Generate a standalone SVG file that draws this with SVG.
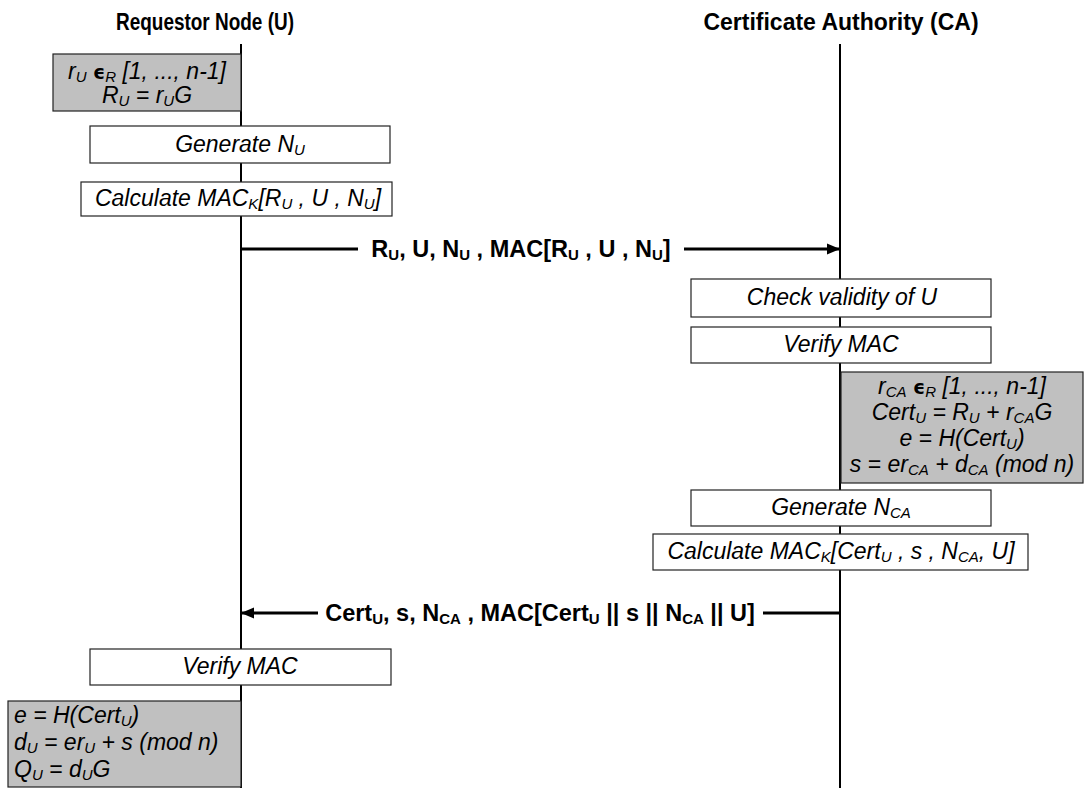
<svg xmlns="http://www.w3.org/2000/svg" width="1086" height="788" viewBox="0 0 1086 788">
<defs>
<marker id="ah" markerUnits="userSpaceOnUse" markerWidth="14" markerHeight="12" refX="13" refY="6" orient="auto">
<path d="M0,0.5 L13,6 L0,11.5 Z" fill="#000"/>
</marker>
<style>
.hdr{font-family:"Liberation Sans",Arial,sans-serif;font-weight:bold;font-size:23px;fill:#000;text-anchor:middle}
.lbl{font-family:"Liberation Sans",Arial,sans-serif;font-weight:bold;font-size:23.5px;fill:#000;text-anchor:middle}
.t{font-family:"Liberation Sans",Arial,sans-serif;font-style:italic;font-size:23px;fill:#000;text-anchor:middle}
.tl{font-family:"Liberation Sans",Arial,sans-serif;font-style:italic;font-size:23px;fill:#000}
.s{font-size:15px}
.ls{font-size:15px}
.eps{font-family:"DejaVu Sans",sans-serif;font-style:normal;font-weight:bold;font-size:19px}
.box{fill:#fff;stroke:#222;stroke-width:1.2}
.gbox{fill:#c0c0c0;stroke:#222;stroke-width:1.2}
.life{stroke:#000;stroke-width:2;fill:none}
.msg{stroke:#000;stroke-width:3;fill:none}
</style>
</defs>

<g id="header-u"><text class="hdr" x="205" y="30" textLength="178" lengthAdjust="spacingAndGlyphs">Requestor Node (U)</text></g>
<g id="header-ca"><text class="hdr" x="841" y="30">Certificate Authority (CA)</text></g>

<g id="lifelines">
<line class="life" x1="241" y1="44" x2="241" y2="788"/>
<line class="life" x1="840" y1="44" x2="840" y2="788"/>
</g>

<g id="u-gen-key">
<rect class="gbox" x="53" y="54" width="188" height="57"/>
<text class="t" x="147" y="79">r<tspan class="s" dy="3">U</tspan><tspan dy="-3"> </tspan><tspan class="eps">ϵ</tspan><tspan class="s" dy="3">R</tspan><tspan dy="-3"> [1, ..., n-1]</tspan></text>
<text class="t" x="147" y="103">R<tspan class="s" dy="3">U</tspan><tspan dy="-3"> = r</tspan><tspan class="s" dy="3">U</tspan><tspan dy="-3">G</tspan></text>
</g>

<g id="u-gen-nonce">
<rect class="box" x="90" y="126" width="300" height="37"/>
<text class="t" x="240" y="152">Generate N<tspan class="s" dy="3">U</tspan></text>
</g>

<g id="u-calc-mac">
<rect class="box" x="81" y="182" width="311" height="34"/>
<text class="t" x="238" y="206">Calculate MAC<tspan class="s" dy="3">K</tspan><tspan dy="-3">[R</tspan><tspan class="s" dy="3">U</tspan><tspan dy="-3"> , U , N</tspan><tspan class="s" dy="3">U</tspan><tspan dy="-3">]</tspan></text>
</g>

<g id="ca-check">
<rect class="box" x="691" y="279" width="300" height="38"/>
<text class="t" x="842" y="305">Check validity of U</text>
</g>

<g id="ca-verify">
<rect class="box" x="691" y="327" width="300" height="36"/>
<text class="t" x="841" y="352">Verify MAC</text>
</g>

<g id="ca-compute">
<rect class="gbox" x="841" y="372" width="242" height="111"/>
<text class="t" x="962" y="394">r<tspan class="s" dy="3">CA</tspan><tspan dy="-3"> </tspan><tspan class="eps">ϵ</tspan><tspan class="s" dy="3">R</tspan><tspan dy="-3"> [1, ..., n-1]</tspan></text>
<text class="t" x="962" y="420">Cert<tspan class="s" dy="3">U</tspan><tspan dy="-3"> = R</tspan><tspan class="s" dy="3">U</tspan><tspan dy="-3"> + r</tspan><tspan class="s" dy="3">CA</tspan><tspan dy="-3">G</tspan></text>
<text class="t" x="962" y="446">e = H(Cert<tspan class="s" dy="3">U</tspan><tspan dy="-3">)</tspan></text>
<text class="t" x="962" y="472">s = er<tspan class="s" dy="3">CA</tspan><tspan dy="-3"> + d</tspan><tspan class="s" dy="3">CA</tspan><tspan dy="-3"> (mod n)</tspan></text>
</g>

<g id="ca-gen-nonce">
<rect class="box" x="691" y="490" width="300" height="36"/>
<text class="t" x="841" y="515">Generate N<tspan class="s" dy="3">CA</tspan></text>
</g>

<g id="ca-calc-mac">
<rect class="box" x="653" y="534" width="375" height="36"/>
<text class="t" x="841" y="559">Calculate MAC<tspan class="s" dy="3">K</tspan><tspan dy="-3">[Cert</tspan><tspan class="s" dy="3">U</tspan><tspan dy="-3"> , s , N</tspan><tspan class="s" dy="3">CA</tspan><tspan dy="-3">, U]</tspan></text>
</g>

<g id="u-verify">
<rect class="box" x="90" y="649" width="301" height="36"/>
<text class="t" x="240" y="674">Verify MAC</text>
</g>

<g id="u-compute">
<rect class="gbox" x="8" y="701" width="233" height="86"/>
<text class="tl" x="14" y="723">e = H(Cert<tspan class="s" dy="3">U</tspan><tspan dy="-3">)</tspan></text>
<text class="tl" x="14" y="750">d<tspan class="s" dy="3">U</tspan><tspan dy="-3"> = er</tspan><tspan class="s" dy="3">U</tspan><tspan dy="-3"> + s (mod n)</tspan></text>
<text class="tl" x="14" y="777">Q<tspan class="s" dy="3">U</tspan><tspan dy="-3"> = d</tspan><tspan class="s" dy="3">U</tspan><tspan dy="-3">G</tspan></text>
</g>

<g id="connectors">
<line class="msg" x1="241" y1="249" x2="358" y2="249"/>
<line class="msg" x1="684" y1="249" x2="840" y2="249" marker-end="url(#ah)"/>
<text class="lbl" x="521" y="257">R<tspan class="ls" dy="3">U</tspan><tspan dy="-3">, U, N</tspan><tspan class="ls" dy="3">U</tspan><tspan dy="-3"> , MAC[R</tspan><tspan class="ls" dy="3">U</tspan><tspan dy="-3"> , U , N</tspan><tspan class="ls" dy="3">U</tspan><tspan dy="-3">]</tspan></text>
<line class="msg" x1="318" y1="613" x2="241" y2="613" marker-end="url(#ah)"/>
<line class="msg" x1="763" y1="613" x2="840" y2="613"/>
<text class="lbl" x="540" y="621">Cert<tspan class="ls" dy="3">U</tspan><tspan dy="-3">, s, N</tspan><tspan class="ls" dy="3">CA</tspan><tspan dy="-3"> , MAC[Cert</tspan><tspan class="ls" dy="3">U</tspan><tspan dy="-3"> || s || N</tspan><tspan class="ls" dy="3">CA</tspan><tspan dy="-3"> || U]</tspan></text>
</g>
</svg>
